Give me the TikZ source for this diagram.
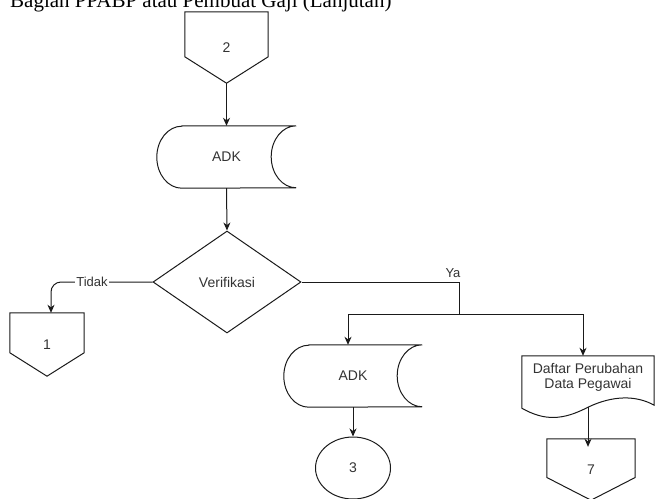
\documentclass[tikz,border=0pt]{standalone}
\usepackage{fontspec}
\setmainfont{Liberation Serif}
\setsansfont{Liberation Sans}
\usetikzlibrary{shapes.geometric,arrows.meta,calc}
\definecolor{ink}{HTML}{1A1A1A}
\definecolor{txt}{HTML}{333333}
\begin{document}
\begin{tikzpicture}[x=1pt,y=1pt,
  >={Stealth[length=8pt,width=7pt,inset=2.5pt]},
  outline/.style={draw=ink, line width=1pt},
  flow/.style={draw=ink, line width=1pt, ->},
  boxbase/.style={inner sep=0pt, text=txt, align=center,
    font=\sffamily\fontsize{14}{15}\selectfont},
  edgelbl/.style={inner sep=1pt, text=txt, fill=white,
    font=\sffamily\fontsize{13}{15}\selectfont},
  % off-page connector: box with a pointed bottom
  offpage/.style 2 args={boxbase, minimum width=#1, minimum height=#2,
    append after command={\pgfextra{\let\curnode\tikzlastnode
      \draw[outline] (\curnode.north west) -- (\curnode.north east)
        -- ($(\curnode.north east)!0.63!(\curnode.south east)$)
        -- (\curnode.south)
        -- ($(\curnode.north west)!0.63!(\curnode.south west)$) -- cycle;}}},
  % stored data: convex left side, concave right side
  storage/.style={boxbase, minimum width=#1, minimum height=62,
    append after command={\pgfextra{\let\curnode\tikzlastnode
      \draw[outline] ([xshift=25pt]\curnode.north west) -- (\curnode.north east)
        arc[start angle=90, end angle=270, x radius=25pt, y radius=31pt]
        -- ([xshift=25pt]\curnode.south west)
        arc[start angle=270, end angle=90, x radius=25pt, y radius=31pt]
        -- cycle;}}},
  % document: flat top, wavy bottom below the text box
  document/.style 2 args={boxbase, minimum width=#1, minimum height=#2,
    append after command={\pgfextra{\let\curnode\tikzlastnode
      \draw[outline] ([yshift=-9pt]\curnode.south west) -- (\curnode.north west)
        -- (\curnode.north east) -- ([yshift=-6pt]\curnode.south east)
        .. controls ([shift={(-18pt,4pt)}]\curnode.south east)
           and ([shift={(25pt,4pt)}]\curnode.south)
        .. ([yshift=-8pt]\curnode.south)
        .. controls ([shift={(-25pt,-21pt)}]\curnode.south)
           and ([shift={(23pt,-22pt)}]\curnode.south west)
        .. ([yshift=-9pt]\curnode.south west) -- cycle;}}},
  decision/.style={boxbase, diamond, outline, aspect=1.45,
    minimum width=148, minimum height=102},
  connector/.style={boxbase, ellipse, outline,
    minimum width=75, minimum height=62}
]
\useasboundingbox (0,0) rectangle (655,-498);

\node[anchor=base west, inner sep=0pt, font=\fontsize{21}{25}\selectfont]
  (title) at (10,-7) {Bagian PPABP atau Pembuat Gaji (Lanjutan)};

% nodes
\node[offpage={83}{71}] (op2) at (226.5,-47.5) {2};
\node[storage=139] (adk1) at (226.5,-157) {ADK};
\node[decision] (dia) at (227,-282) {Verifikasi};
\node[offpage={74}{63}] (op1) at (47,-344.5) {1};
\node[storage=138] (adk2) at (353,-376) {ADK};
\node[connector] (c3) at (353,-468) {3};
\node[document={132}{43}] (doc) at (588,-377.5) {Daftar Perubahan\\Data Pegawai};
\node[offpage={88}{61}] (op7) at (591,-469.5) {7};

\coordinate (ya) at (459,-282);
\coordinate (split) at (459,-314);

% main flow
\draw[flow] (op2.south) -- (adk1.north);
\draw[flow] (adk1.south) -- (dia.north);

% "Tidak" branch
\draw[flow, rounded corners=10pt] (dia.west) -| ([xshift=4pt]op1.north);
\node[edgelbl] (tidak) at (92,-282) {Tidak};

% "Ya" branch
\draw[outline] (dia.east) -- (ya) -- (split);
\node[edgelbl, fill=none, anchor=base] (yalbl) at (453,-277) {Ya};
\draw[flow] (split) -| ([xshift=-5pt]adk2.north);
\draw[flow] (split) -| ([xshift=-5pt]doc.north);

\draw[flow] (adk2.south) -- (c3.north);
\draw[flow] ([yshift=-8pt]doc.south) -- ([yshift=-8pt]doc.south |- op7.north);
\end{tikzpicture}
\end{document}
